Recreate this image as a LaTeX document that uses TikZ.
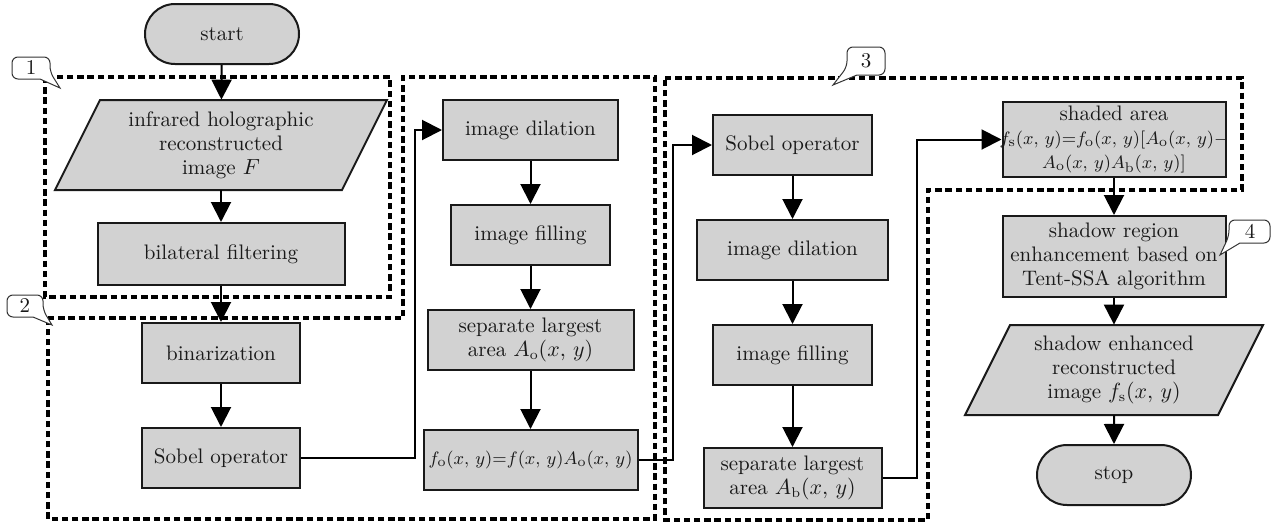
\documentclass[tikz,border=0pt]{standalone}
\usetikzlibrary{arrows.meta,shapes.misc,calc}
\definecolor{boxgray}{RGB}{210,210,210}
\newcommand{\mathsize}{\fontsize{9.5}{12}\selectfont}
\begin{document}
\begin{tikzpicture}[x=0.5pt,y=-0.5pt,
  every node/.style={font=\fontsize{10.5}{12}\selectfont, text=black!90},
  proc/.style={draw=black!90, line width=1pt, fill=boxgray, align=center,
    inner sep=1pt, minimum height=30pt},
  term/.style={proc, rounded rectangle, minimum width=79pt, minimum height=30pt},
  io/.style={align=center, inner sep=0pt, minimum height=45pt},
  iobox/.style={draw=black!90, line width=1pt, fill=boxgray},
  arr/.style={draw=black, line width=1pt, -{Triangle[width=10pt,length=10pt]}},
  region/.style={draw=black, line width=1.6pt, dash pattern=on 3.2pt off 1.9pt},
  callout/.style={draw=black!80, line width=0.5pt, fill=white},
  num/.style={inner sep=0pt},
]
\useasboundingbox (0,0) rectangle (1271,525);

% dashed stage frames
\draw[region] (45,77) rectangle (390,297);
\draw[region] (48,318) -- (403,318) -- (403,77) -- (655,77) -- (655,519) -- (48,519) -- cycle;
\draw[region] (665,78) -- (1242,78) -- (1242,190) -- (928,190) -- (928,520) -- (665,520) -- cycle;

% column 1
\node[term] (start) at (222,34) {start};
\draw[iobox] (100,100) -- (387,100) -- (342,190) -- (55,190) -- cycle;
\node[io] (in) at (221,145) {infrared holographic\\ reconstructed\\ image $F$};
\node[proc, minimum width=123.5pt, minimum height=31pt] (bil) at (221,254) {bilateral filtering};
\node[proc, minimum width=79pt] (bin) at (221,353) {binarization};
\node[proc, minimum width=79pt] (sob1) at (221,458) {Sobel operator};

% column 2
\node[proc, minimum width=87.5pt] (dil1) at (530.5,130) {image dilation};
\node[proc, minimum width=79.5pt] (fill1) at (530.5,235) {image filling};
\node[proc, minimum width=103pt] (sep1) at (530.5,340) {separate largest\\ area $A_{\mathrm{o}}(x,\,y)$};
\node[proc, minimum width=107pt] (fo) at (530.5,460)
  {\makebox[0pt][c]{\fontsize{9.3}{12}\selectfont$f_{\mathrm{o}}(x,\,y){=}f(x,\,y)A_{\mathrm{o}}(x,\,y)$}};

% column 3
\node[proc, minimum width=79.5pt] (sob2) at (792.5,145) {Sobel operator};
\node[proc, minimum width=95.5pt] (dil2) at (792.5,250) {image dilation};
\node[proc, minimum width=79.5pt] (fill2) at (792.5,355) {image filling};
\node[proc, minimum width=89pt] (sepb) at (792.5,478) {separate largest\\ area $A_{\mathrm{b}}(x,\,y)$};

% column 4
\node[proc, minimum width=111.5pt, minimum height=37.5pt] (shade) at (1114,139.5)
  {shaded area\\
   \makebox[0pt][c]{\mathsize$f_{\mathrm{s}}(x,\,y){=}f_{\mathrm{o}}(x,\,y)[A_{\mathrm{o}}(x,\,y){-}$}\\
   {\mathsize$A_{\mathrm{o}}(x,\,y)A_{\mathrm{b}}(x,\,y)]$}};
\node[proc, minimum width=111.5pt, minimum height=40.5pt] (enh) at (1114,256.5)
  {shadow region\\ enhancement based on\\ Tent-SSA algorithm};
\draw[iobox] (1010,325) -- (1263,325) -- (1218,415) -- (965,415) -- cycle;
\node[io] (out) at (1114,370) {shadow enhanced\\ reconstructed\\ image $f_{\mathrm{s}}(x,\,y)$};
\node[term] (stop) at (1114,475) {stop};

% turning points of the long links
\coordinate (k1) at (415,0);
\coordinate (k2) at (673,0);
\coordinate (k3) at (917,0);

% connectors
\draw[arr] (start) -- (in);
\draw[arr] (in) -- (bil);
\draw[arr] (bil) -- (bin);
\draw[arr] (bin) -- (sob1);
\draw[arr] (sob1.east) -| (k1 |- dil1.west) -- (dil1.west);
\draw[arr] (dil1) -- (fill1);
\draw[arr] (fill1) -- (sep1);
\draw[arr] (sep1) -- (fo);
\draw[arr] (fo.east) -| (k2 |- sob2.west) -- (sob2.west);
\draw[arr] (sob2) -- (dil2);
\draw[arr] (dil2) -- (fill2);
\draw[arr] (fill2) -- (sepb);
\draw[arr] (sepb.east) -| (k3 |- shade.west) -- (shade.west);
\draw[arr] (shade) -- (enh);
\draw[arr] (enh) -- (out);
\draw[arr] (out) -- (stop);

% stage callouts
\draw[callout] (60,88) -- (40,79) [rounded corners=3pt] -- (12,79) -- (12,57) -- (50,57) -- (50,72) [sharp corners] -- cycle;
\node[num] (n1) at (31,68) {1};
\draw[callout] (52,325) -- (33,317) [rounded corners=3pt] -- (7,317) -- (7,295) -- (43,295) -- (43,310) [sharp corners] -- cycle;
\node[num] (n2) at (25,306) {2};
\draw[callout] (833,85) -- (857,75) [rounded corners=3pt] -- (885,75) -- (885,47) -- (847,47) -- (847,67) [sharp corners] -- cycle;
\node[num] (n3) at (866,61) {3};
\draw[callout] (1220,255) -- (1240,243) [rounded corners=3pt] -- (1270,243) -- (1270,220) -- (1229,220) -- (1229,236) [sharp corners] -- cycle;
\node[num] (n4) at (1250,231.5) {4};
\end{tikzpicture}
\end{document}
